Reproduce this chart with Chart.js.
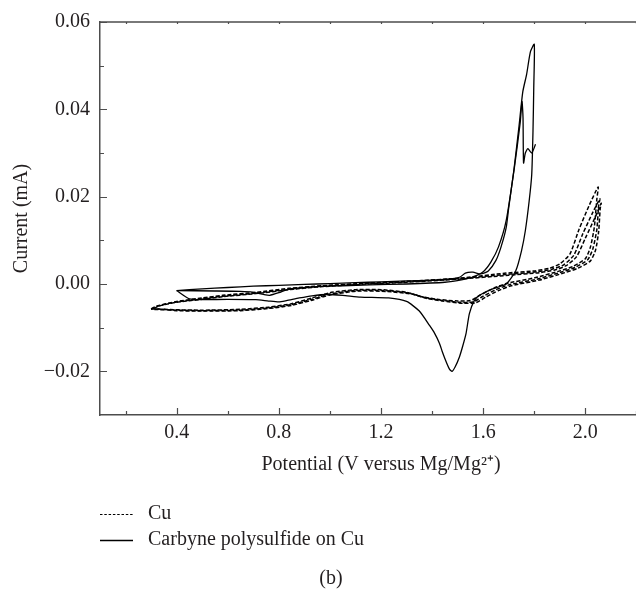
<!DOCTYPE html>
<html>
<head>
<meta charset="utf-8">
<script src="https://cdn.jsdelivr.net/npm/chart.js@4.4.1/dist/chart.umd.min.js"></script>
<style>
  html, body { margin: 0; padding: 0; background: #fff; overflow: hidden; }
  #wrap { width: 636px; height: 591px; overflow: hidden; }
  #box { width: 662px; height: 591px; }
</style>
</head>
<body>
<div id="wrap"><div id="box"><canvas id="chart"></canvas></div></div>
<script>
// Cu, three cycles (dashed)
const cuV1 = [0.30,0.32,0.40,0.50,0.58,0.71,0.84,0.97,1.15,1.30,1.50,1.69,1.80,1.86,1.90,1.94,1.975,2.015,2.05,
  2.045,2.035,2.02,2.00,1.95,1.90,1.80,1.69,1.64,1.59,1.55,1.50,1.42,1.36,1.30,1.20,1.10,1.00,0.93,0.85,0.76,0.65,0.50,0.40,0.30];
const cuI1 = [-0.0057,-0.0051,-0.0040,-0.0032,-0.0026,-0.0019,-0.0010,-0.0004,0.0002,0.0006,0.0013,0.0025,0.0030,0.0036,0.0046,0.0069,0.0125,0.0180,0.0222,
  0.0195,0.0130,0.0085,0.0058,0.0040,0.0030,0.0014,0.0001,-0.0010,-0.0025,-0.0038,-0.0039,-0.0035,-0.0029,-0.0019,-0.0013,-0.0013,-0.0020,-0.0032,-0.0045,-0.0053,-0.0058,-0.0060,-0.0059,-0.0057];
const cuV2 = [0.30,0.33,0.40,0.50,0.58,0.71,0.84,0.97,1.15,1.30,1.50,1.69,1.81,1.87,1.915,1.955,1.99,2.03,2.057,
  2.052,2.045,2.03,2.01,1.96,1.91,1.81,1.70,1.65,1.60,1.56,1.51,1.43,1.37,1.31,1.21,1.10,1.00,0.93,0.85,0.76,0.65,0.50,0.40,0.30];
const cuI2 = [-0.0058,-0.0050,-0.0041,-0.0034,-0.0028,-0.0021,-0.0012,-0.0005,0.0001,0.0005,0.0012,0.0022,0.0028,0.0034,0.0044,0.0066,0.0115,0.0165,0.0195,
  0.0180,0.0125,0.0082,0.0056,0.0038,0.0028,0.0011,-0.0002,-0.0013,-0.0028,-0.0041,-0.0042,-0.0037,-0.0031,-0.0021,-0.0015,-0.0015,-0.0023,-0.0035,-0.0047,-0.0055,-0.0060,-0.0061,-0.0060,-0.0058];
const cuV3 = [0.31,0.34,0.40,0.50,0.58,0.71,0.84,0.97,1.15,1.30,1.50,1.70,1.82,1.88,1.925,1.965,2.00,2.04,2.062,
  2.058,2.052,2.04,2.02,1.97,1.92,1.82,1.71,1.66,1.61,1.57,1.52,1.44,1.38,1.32,1.22,1.11,1.00,0.93,0.85,0.76,0.65,0.50,0.40,0.31];
const cuI3 = [-0.0056,-0.0049,-0.0042,-0.0035,-0.0029,-0.0022,-0.0013,-0.0006,0.0000,0.0004,0.0011,0.0020,0.0026,0.0032,0.0042,0.0062,0.0105,0.0155,0.0185,
  0.0172,0.0120,0.0078,0.0053,0.0036,0.0026,0.0009,-0.0004,-0.0015,-0.0030,-0.0043,-0.0044,-0.0039,-0.0033,-0.0023,-0.0017,-0.0016,-0.0025,-0.0037,-0.0049,-0.0056,-0.0061,-0.0062,-0.0061,-0.0056];

// Carbyne polysulfide on Cu (solid)
const carbV1 = [0.40,0.50,0.60,0.70,0.80,0.90,1.00,1.10,1.20,1.30,1.40,1.48,1.51,1.53,1.56,1.59,1.62,1.65,1.67,1.69,1.70,
  1.72,1.74,1.755,1.77,1.785,1.80,1.798,1.795,1.79,1.78,1.765,1.75,1.728,1.69,1.637,1.585,1.565,1.546,1.533,1.52,1.507,1.49,1.478,1.468,
  1.455,1.44,1.429,1.41,1.39,1.35,1.30,1.23,1.12,1.05,0.99,0.93,0.88,0.83,0.80,0.76,0.71,0.60,0.50,0.45,0.40];
const carbI1 = [-0.0015,-0.0011,-0.0008,-0.0005,-0.0003,-0.0001,0.0001,0.0003,0.0005,0.0007,0.0009,0.0012,0.0016,0.0025,0.0027,0.0023,0.0030,0.0054,0.0085,0.0129,0.0175,
  0.0260,0.0360,0.0440,0.0480,0.0532,0.0549,0.0450,0.0350,0.0250,0.0190,0.0122,0.0076,0.0031,0.0000,-0.0011,-0.0026,-0.0038,-0.0068,-0.0113,-0.0142,-0.0167,-0.0190,-0.0200,-0.0195,
  -0.0178,-0.0155,-0.0136,-0.0113,-0.0095,-0.0062,-0.0040,-0.0032,-0.0030,-0.0026,-0.0024,-0.0027,-0.0032,-0.0038,-0.0041,-0.0039,-0.0036,-0.0035,-0.0036,-0.0034,-0.0015];
const carbV2 = [0.40,0.55,0.65,0.70,0.74,0.764,0.80,0.842,0.95,1.05,1.155,1.30,1.45,1.52,1.56,1.60,1.63,1.66,1.69,1.722,1.745,1.752,1.756,1.758,1.765,1.775,1.79,1.805];
const carbI2 = [-0.0015,-0.0016,-0.0017,-0.0019,-0.0024,-0.0026,-0.0020,-0.0011,-0.0006,-0.0004,-0.0002,0.0000,0.0004,0.0010,0.0016,0.0028,0.0050,0.0085,0.0145,0.0266,0.0370,0.0418,0.0380,0.0277,0.0300,0.0310,0.0300,0.0320];

// axis ticks
const xMajorTicks = [0.4, 0.8, 1.2, 1.6, 2.0];
const xMinorTicks = [0.2, 0.6, 1.0, 1.4, 1.8, 2.2];
const yMajorTicks = [-0.02, 0, 0.02, 0.04, 0.06];
const yMinorTicks = [-0.01, 0.01, 0.03, 0.05];

const ink = '#231f20';
const axisColor = '#4d4d4d';
const serif = '"Liberation Serif", "Times New Roman", serif';

function pts(v, i) {
    return v.map((x, k) => ({ x: x, y: i[k] }));
}

function curve(label, v, i, dash) {
    return {
        label: label,
        data: pts(v, i),
        showLine: true,
        borderColor: '#000',
        borderWidth: dash.length ? 1.5 : 1.3,
        borderDash: dash,
        pointRadius: 0,
        tension: 0.2,
        fill: false
    };
}

Chart.defaults.font.family = serif;
Chart.defaults.color = ink;

const frameAndLegend = {
    id: 'frameAndLegend',
    afterDraw(chart) {
        const { ctx, chartArea: a, scales: { x, y } } = chart;
        ctx.save();
        ctx.strokeStyle = axisColor;
        ctx.lineWidth = 1.5;
        ctx.beginPath();
        ctx.moveTo(a.left, a.top);
        ctx.lineTo(a.right, a.top);
        ctx.stroke();

        ctx.lineWidth = 1.2;
        ctx.beginPath();
        xMajorTicks.concat(xMinorTicks).forEach(v => {
            const p = Math.round(x.getPixelForValue(v)) + 0.5;
            const len = xMajorTicks.includes(v) ? 7 : 4;
            ctx.moveTo(p, a.bottom);
            ctx.lineTo(p, a.bottom - len);
            ctx.moveTo(p, a.top);
            ctx.lineTo(p, a.top + 2);
        });
        yMajorTicks.concat(yMinorTicks).forEach(v => {
            const p = Math.round(y.getPixelForValue(v)) + 0.5;
            const len = yMajorTicks.includes(v) ? 7 : 4;
            ctx.moveTo(a.left, p);
            ctx.lineTo(a.left + len, p);
        });
        ctx.stroke();

        // legend, one entry per row
        const items = chart.data.datasets.filter(d => d.label);
        ctx.font = '20px ' + serif;
        ctx.fillStyle = ink;
        ctx.textBaseline = 'middle';
        items.forEach((d, k) => {
            const ly = a.bottom + 99 + k * 26;
            ctx.strokeStyle = '#000';
            ctx.lineWidth = d.borderDash.length ? 1 : 1.3;
            ctx.setLineDash(d.borderDash.length ? [2.5, 1.8] : []);
            ctx.beginPath();
            ctx.moveTo(a.left, ly + 0.5);
            ctx.lineTo(a.left + 33, ly + 0.5);
            ctx.stroke();
            ctx.fillText(d.label, a.left + 48, ly);
        });
        ctx.restore();
    }
};

new Chart(document.getElementById('chart'), {
    type: 'scatter',
    data: {
        datasets: [
            curve('Cu', cuV1, cuI1, [4, 2]),
            curve('', cuV2, cuI2, [4, 2]),
            curve('', cuV3, cuI3, [4, 2]),
            curve('Carbyne polysulfide on Cu', carbV1, carbI1, []),
            curve('', carbV2, carbI2, [])
        ]
    },
    options: {
        responsive: true,
        maintainAspectRatio: false,
        animation: false,
        layout: { padding: { top: 20, left: 0, right: 0, bottom: 0 } },
        plugins: {
            legend: { display: false },
            tooltip: { enabled: false },
            title: {
                display: true,
                text: '(b)',
                position: 'bottom',
                font: { size: 20, weight: 'normal' },
                color: ink,
                padding: { top: 0, bottom: 0 }
            }
        },
        scales: {
            x: {
                type: 'linear',
                min: 0.1,
                max: 2.3,
                afterBuildTicks: s => { s.ticks = xMajorTicks.map(v => ({ value: v })); },
                afterFit: s => { s.height = 152; },
                grid: { display: false, drawTicks: false },
                border: { display: true, color: axisColor, width: 1.5 },
                ticks: {
                    padding: 6,
                    font: { size: 20 },
                    color: ink,
                    callback: v => v.toFixed(1)
                },
                title: {
                    display: true,
                    text: 'Potential (V versus Mg/Mg\u00B2\u207A)',
                    font: { size: 20 },
                    color: ink,
                    padding: { top: 0, bottom: 90 }
                }
            },
            y: {
                type: 'linear',
                min: -0.03,
                max: 0.06,
                afterBuildTicks: s => { s.ticks = yMajorTicks.map(v => ({ value: v })); },
                afterFit: s => { s.width = 100; },
                grid: { display: false, drawTicks: false },
                border: { display: true, color: axisColor, width: 1.5 },
                ticks: {
                    padding: 10,
                    font: { size: 20 },
                    color: ink,
                    callback: v => (v < -1e-9 ? '\u2212' : '') + Math.abs(v).toFixed(2)
                },
                title: {
                    display: true,
                    text: 'Current (mA)',
                    font: { size: 20 },
                    color: ink,
                    padding: { top: 10, bottom: 0 }
                }
            }
        }
    },
    plugins: [frameAndLegend]
});
</script>
</body>
</html>
